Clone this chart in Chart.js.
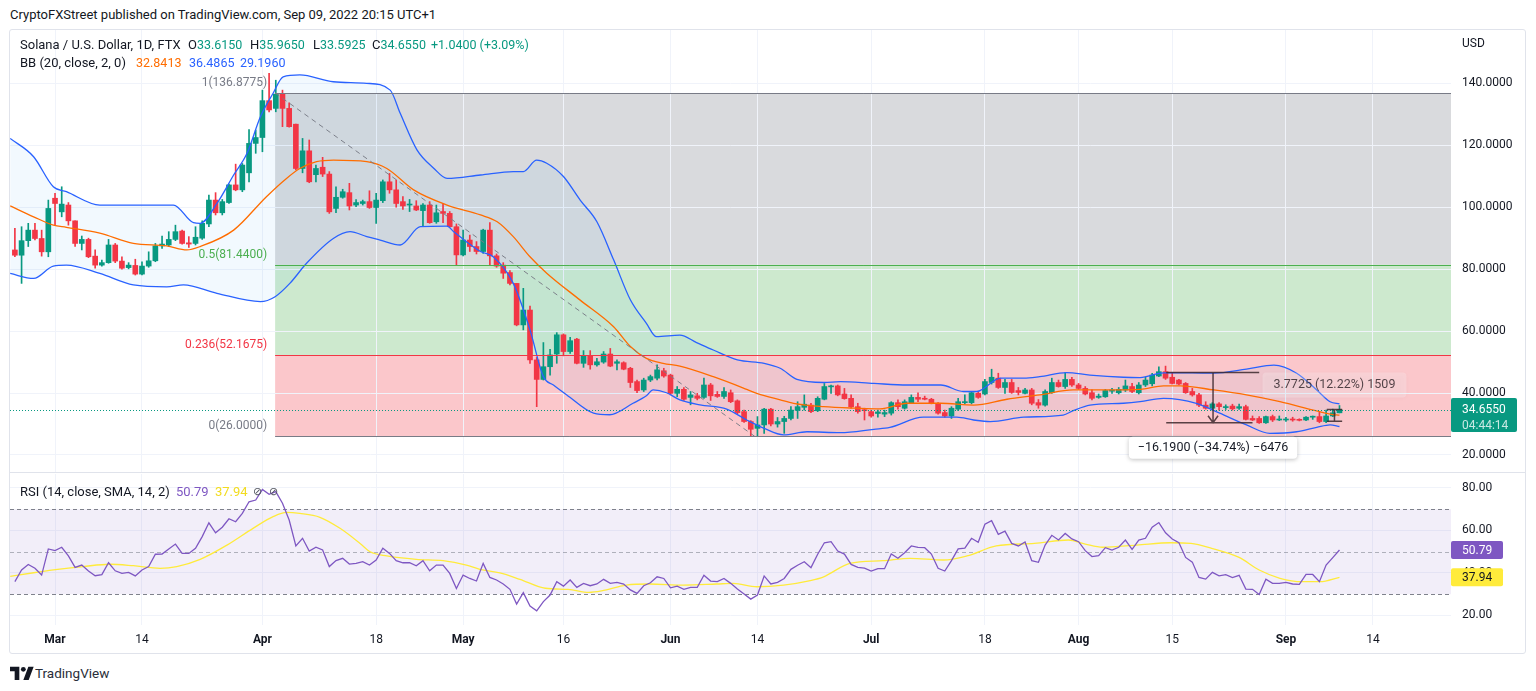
<!DOCTYPE html>
<html><head><meta charset="utf-8">
<script src="https://cdn.jsdelivr.net/npm/chart.js@4.4.0/dist/chart.umd.min.js"></script>
<style>
html,body{margin:0;padding:0;background:#fff}
body{width:1536px;height:691px;overflow:hidden;position:relative;font-family:Roboto,"Noto Sans",sans-serif;color:#131722}
.t{position:absolute;font-size:13px;line-height:16px;white-space:nowrap;color:#131722;z-index:3}
.v{font-size:12.5px}
#frame{position:absolute;left:9px;top:29px;width:1517px;height:625px;border:1px solid #e0e3eb;box-sizing:border-box;border-radius:3px}
#sep{position:absolute;left:10px;top:472px;width:1515px;height:1px;background:#e0e3eb;z-index:2}
#c1{position:absolute;left:10px;top:30px}
#c2{position:absolute;left:10px;top:474px}
.up{color:#089981}
.mk{position:absolute;font-size:11px;line-height:12px;color:#50535e;z-index:3}
</style></head><body>
<div id="frame"></div>
<canvas id="c1" width="1515" height="442"></canvas>
<div id="sep"></div>
<canvas id="c2" width="1515" height="179"></canvas>

<div class="t" style="left:10px;top:7px">CryptoFXStreet published on TradingView.com, Sep 09, 2022 20:15 UTC+1</div>
<div class="t" style="left:20px;top:37px">Solana / U.S. Dollar, 1D, FTX</div>
<div class="t" id="lgO" style="left:188px;top:37px"></div>
<div class="t" id="lgH" style="left:250px;top:37px"></div>
<div class="t" id="lgL" style="left:313px;top:37px"></div>
<div class="t" id="lgC" style="left:372px;top:37px"></div>
<div class="t up v" id="lgChg" style="left:431px;top:37px"></div>
<div class="t" style="left:20px;top:55px">BB (20, close, 2, 0)</div>
<div class="t v" id="lgBasis" style="left:136px;top:55px;color:#ff6d00"></div>
<div class="t v" id="lgUpper" style="left:189px;top:55px;color:#2962ff"></div>
<div class="t v" id="lgLower" style="left:240px;top:55px;color:#2962ff"></div>
<div class="t" style="left:1462px;top:35px;font-size:12px">USD</div>
<div class="t" style="left:20px;top:484px">RSI (14, close, SMA, 14, 2)</div>
<div class="t" id="lgRsi" style="left:176px;top:484px;color:#7e57c2"></div>
<div class="t" id="lgMa" style="left:215px;top:484px;color:#f2dc1f"></div>
<div class="mk" style="left:253px;top:486px">&#8856;</div>
<div class="mk" style="left:269px;top:486px">&#8856;</div>

<svg style="position:absolute;left:10px;top:666px" width="24" height="14" viewBox="0 0 36 21"><path d="M14 21H7V8H0V1h14v20zM28 21h-8L27.5 1h8L28 21z" fill="#131722"/><circle cx="20" cy="5" r="3.6" fill="#131722"/></svg>
<div class="t" style="left:35px;top:665px;font-size:13.5px;color:#2a2e39">TradingView</div>

<script>
// ---------------- DATA ----------------
const startDate = '2022-02-23';   // first daily candle
const refDate = '2022-03-01';     // day 0 of the time axis

const opens = [
 86.2,84.5,89.2,92.6,89.9,85.6,102.9,98.5,100.7,95.6,
 88.3,89.6,84.2,81.3,82.1,87.8,82.6,80.5,81.2,78.4,
 81.0,82.7,87.5,87.8,89.6,92.3,88.5,88.3,90.0,94.6,
 102.3,98.2,101.5,107.2,105.6,111.1,120.6,122.5,134.4,131.9,
 136.5,131.9,126.8,112.5,118.2,110.5,112.9,110.7,99.6,103.2,
 104.7,100.7,101.2,101.8,99.9,102.1,108.2,105.6,101.8,100.7,
 100.4,98.9,100.7,95.3,98.6,98.0,93.7,84.6,89.4,87.3,
 85.7,92.6,84.3,81.3,78.9,75.4,62.0,66.8,50.7,44.4,
 48.5,52.6,58.8,53.4,57.4,49.6,52.0,49.1,50.0,52.6,
 49.6,49.8,48.0,43.7,41.0,44.2,44.8,47.2,45.8,39.9,
 41.2,38.6,39.1,38.6,42.6,39.6,38.9,40.1,37.5,34.0,
 30.8,28.6,29.7,34.8,30.0,30.8,31.8,34.4,35.4,36.1,
 34.3,38.0,42.0,42.3,39.7,38.3,35.6,34.5,34.0,33.4,
 33.2,33.5,36.9,35.1,36.9,38.6,38.3,38.0,36.7,33.7,
 32.6,34.8,36.9,36.9,39.9,39.7,43.4,44.8,41.8,43.4,
 40.8,39.9,41.0,36.9,36.1,40.1,43.4,42.1,44.4,42.6,
 41.5,40.1,38.6,38.8,40.6,40.1,41.0,42.1,40.1,42.6,
 43.0,45.5,46.9,45.1,44.2,43.1,40.5,39.4,36.1,35.1,
 36.5,35.3,35.8,35.1,35.6,31.8,31.8,30.4,32.4,31.3,
 31.3,31.5,31.3,31.3,32.2,32.4,30.8,32.6,33.615];
const highs = [
 93.2,93.7,94.8,94.8,92.6,102.3,104.5,106.6,101.5,95.6,
 90.7,90.0,86.2,82.9,89.6,88.3,84.0,82.1,83.2,82.4,
 85.6,88.3,90.7,92.1,94.2,92.6,90.5,93.7,95.6,103.9,
 104.7,102.5,107.5,113.9,114.1,125.1,124.9,137.8,143.2,141.0,
 137.8,133.7,126.8,122.2,121.7,113.6,116.1,111.5,106.6,105.8,
 107.7,102.5,102.3,105.3,104.5,108.8,110.9,108.8,103.4,102.5,
 102.1,101.2,101.8,100.7,101.2,98.6,94.6,92.6,91.0,88.9,
 92.9,95.0,84.9,82.1,79.5,75.4,73.8,68.1,51.5,56.3,
 54.1,59.5,59.1,58.0,57.7,53.7,53.7,51.2,53.4,54.4,
 50.7,50.1,48.3,44.2,44.8,45.8,49.1,48.0,46.1,42.1,
 41.8,40.5,39.9,44.8,43.1,40.5,41.8,41.0,37.8,34.5,
 31.1,32.4,35.1,35.1,32.1,32.5,35.6,37.2,39.4,36.7,
 38.8,43.1,42.6,42.6,41.5,39.4,36.7,35.1,34.5,34.5,
 34.5,37.2,37.8,37.8,39.4,40.1,39.0,38.3,36.9,34.5,
 35.6,38.3,39.4,40.5,40.5,44.4,47.7,46.4,44.4,44.4,
 41.8,41.5,41.5,37.9,41.0,44.8,44.2,46.6,45.1,43.1,
 42.1,41.0,39.7,41.2,41.5,41.8,44.2,43.1,43.4,45.1,
 46.4,48.5,48.7,46.6,44.4,43.4,41.5,39.9,37.2,36.9,
 36.9,36.2,36.4,36.4,36.1,32.6,32.4,32.6,32.9,32.6,
 32.2,32.2,31.7,32.4,32.6,34.0,34.5,34.8,35.965];
const lows = [
 84.0,75.4,87.3,89.4,84.2,84.0,94.2,96.9,94.2,87.3,
 86.2,83.7,80.3,81.0,81.9,82.1,80.0,80.1,78.1,78.1,
 80.6,82.4,86.7,87.3,89.2,88.1,87.0,87.8,89.6,93.7,
 97.5,97.5,101.2,105.3,105.0,108.2,117.4,117.9,130.8,130.8,
 126.0,125.8,112.0,111.1,107.9,108.2,109.9,98.0,98.2,102.9,
 99.1,100.2,100.7,99.6,94.8,101.5,104.5,100.0,99.3,98.6,
 98.9,93.7,94.8,94.8,95.0,93.5,81.4,84.3,85.7,84.9,
 85.1,81.4,80.6,77.0,74.9,61.7,60.4,49.6,35.6,44.2,
 45.8,49.6,52.0,52.8,49.4,48.3,47.7,48.7,49.6,48.5,
 47.5,47.5,41.8,40.1,40.5,43.7,44.2,45.1,39.4,38.8,
 37.6,36.2,37.8,38.3,37.6,38.6,38.3,36.9,33.3,30.5,
 26.0,26.0,27.0,29.4,29.0,27.0,31.3,31.8,34.5,33.7,
 34.0,37.8,39.9,39.1,38.0,35.1,33.5,31.3,32.2,32.2,
 32.4,32.9,34.8,34.8,36.7,37.2,37.8,36.5,33.2,32.2,
 31.8,34.3,36.5,36.5,38.3,39.4,42.9,41.5,39.9,39.9,
 39.4,39.7,36.2,35.1,35.8,39.9,41.9,41.5,42.1,41.2,
 39.4,37.8,38.3,38.6,39.9,39.7,40.5,40.1,39.7,42.1,
 42.3,45.3,44.4,42.9,42.6,39.9,39.0,35.6,34.8,34.5,
 34.5,34.7,34.5,34.7,31.3,31.1,30.2,30.2,30.8,31.1,
 30.8,30.9,31.0,31.1,31.5,30.4,30.4,32.4,33.5925];
const closes = [
 84.5,89.2,92.6,89.9,85.6,99.6,101.2,101.0,95.6,88.3,
 89.6,84.0,81.3,82.1,87.8,82.6,80.3,81.3,78.4,81.0,
 82.7,87.5,88.1,89.6,92.1,88.3,88.1,90.3,94.8,102.3,
 98.2,101.8,107.2,105.6,113.6,120.6,122.5,134.4,131.4,136.5,
 131.9,126.0,112.5,118.2,108.2,112.5,110.7,98.5,103.2,105.0,
 100.4,101.5,101.8,99.9,102.3,108.2,105.6,101.2,100.4,100.9,
 99.1,100.7,95.0,98.2,98.0,93.7,84.6,89.4,87.3,85.7,
 92.6,84.3,81.0,78.7,75.4,62.0,66.8,50.7,44.4,48.5,
 52.3,58.8,53.4,56.9,49.6,52.0,49.1,50.1,52.6,48.7,
 50.1,47.7,43.4,40.8,44.2,45.3,47.5,45.5,39.9,41.2,
 38.0,39.4,38.3,42.6,39.1,38.9,40.5,37.2,33.7,30.8,
 28.3,29.7,34.8,30.0,30.8,31.8,34.5,35.6,36.4,34.0,
 38.3,42.1,42.3,39.4,38.2,35.6,34.0,34.3,32.6,33.9,
 33.7,36.9,35.6,37.2,38.6,38.0,38.0,36.7,33.5,32.6,
 35.1,37.2,37.2,40.1,38.6,43.7,45.1,41.8,43.4,40.2,
 40.2,41.0,36.7,36.1,40.5,43.4,42.1,44.4,42.6,41.5,
 39.7,38.3,39.0,40.8,41.0,41.2,42.3,40.5,42.6,44.2,
 45.8,46.9,44.8,43.1,42.9,40.1,39.4,36.1,35.1,36.5,
 35.6,35.6,34.9,35.6,31.5,31.3,30.4,32.4,31.3,31.5,
 31.5,31.3,31.2,32.2,32.4,30.8,32.6,33.615,34.655];

// Bollinger Bands (20, 2): day offsets from Mar 1 and values
const upperDays = [-6.7,-3.2,-0.25,1.7,6.7,11.7,17.7,20.7,21.7,24.2,26.7,28.7,30.7,32.6,34.1,36.6,41.6,46.6,50.1,51.6,54.1,56.6,58.6,63.6,68.5,70,72,73.5,76,78.5,81,83.5,86,88.4,89.9,93.4,95.9,98.4,102,106,108.4,110.9,114.9,117.4,122.4,127.4,132.4,135.8,137.8,141.3,144.8,147.2,151.2,154.7,159.7,162.2,165.7,170,173.2,178.1,182.2,185.6,188.6,190.6,192];
const upperVals = [122.2,116.3,106.6,105.0,100.7,100.7,100.7,95.0,94.8,101.2,110.4,117.4,129.2,136.8,142.1,142.7,140.5,140.0,137.8,130.3,118.5,112.6,109.3,110.4,111.5,111.5,115.2,114.2,109.9,102.3,95.3,83.0,70.1,62.5,58.2,58.7,56.3,53.9,50.7,49.6,48.0,44.4,43.4,43.7,43.1,42.6,42.6,40.5,40.5,44.8,44.8,45.3,46.6,45.8,45.1,45.0,46.5,46.5,46.4,47.7,49.0,46.4,41.0,37.2,36.4865];
const basisDays = [-6.7,-3.2,-0.25,1.7,6.7,11.7,16.7,19.7,21.7,26.7,31.6,34.6,36.6,39.1,41.6,46.6,49.6,53.6,58.6,63.6,66.1,68.5,71,73.5,78.5,83.5,86,88.4,90.9,93.4,98.4,103.4,105,108.4,110.4,114.9,119.9,123.3,127.4,132.4,137.3,142.3,147.2,152.2,157.2,162.2,165.7,168.2,173.2,178.1,183.1,188.1,190.6,192];
const basisVals = [100.4,96.9,94.2,93.5,91.6,88.3,87.5,86.2,87.3,92.6,103.4,109.3,112.5,114.7,115.2,114.7,112.5,105.6,100.7,97.5,95.3,90.5,84.0,78.7,70.0,61.4,55.0,51.2,49.6,48.7,45.3,41.2,39.8,37.8,36.7,35.6,35.1,34.9,36.7,36.7,36.1,38.0,39.4,41.0,41.0,41.2,42.3,42.3,41.0,39.4,37.2,34.5,33.2,32.8413];
const lowerDays = [-6.7,-3.2,-0.25,1.7,6.7,11.7,16.7,19.2,24.2,30.7,32.9,35.1,37.6,41.6,44.1,46.6,48.6,51.6,54.6,58.6,59.6,63.6,65.5,68.5,71,73,74.5,76.5,80.5,82.9,86.4,88.4,89.4,91.4,93.4,96.4,100.4,103.4,106,108.9,112.4,117.4,122.4,124.8,129.8,134.8,137.3,139.8,144.8,150.7,152.2,154.7,159.7,162.2,165.7,170.6,174.1,178.1,181.6,185.6,188.6,190.6,192];
const lowerVals = [78.6,77.0,81.0,81.3,78.6,74.9,74.3,74.9,72.2,69.5,71.1,75.4,81.9,89.9,92.1,90.5,89.4,87.8,93.7,93.9,92.1,85.7,84.0,75.4,60.4,45.3,42.6,39.4,33.5,33.0,36.7,39.1,41.0,40.1,37.8,36.2,34.8,31.3,28.6,26.5,27.5,27.2,28.3,28.9,32.2,32.2,31.3,30.8,32.2,32.9,34.3,36.1,36.7,37.2,38.3,36.7,33.5,29.7,27.0,27.5,28.9,29.7,29.196];

// RSI (14) per candle, and its SMA read at sample days
const rsiVals = [
 35.9,41.4,44.0,42.2,39.0,51.3,50.5,52.1,48.0,42.6,
 43.7,40.9,38.7,39.2,44.8,41.0,39.8,40.3,38.6,41.4,
 43.0,48.8,48.9,51.3,53.6,49.2,49.2,51.6,57.1,63.6,
 58.9,61.5,65.5,64.1,68.0,73.5,74.3,79.3,77.0,78.3,
 72.8,64.9,52.7,56.3,50.3,52.1,50.8,43.0,45.8,46.9,
 44.2,44.5,45.3,43.7,46.1,51.6,49.2,45.8,44.8,44.8,
 43.4,45.8,41.0,43.7,43.7,39.8,32.7,39.0,37.4,36.2,
 44.5,37.9,36.7,34.8,32.3,25.4,30.7,24.4,22.2,26.5,
 29.6,35.9,33.8,36.7,33.2,35.1,34.0,34.8,37.0,35.1,
 35.6,34.8,32.0,30.4,34.0,35.4,38.2,37.4,33.0,33.8,
 32.3,33.2,33.2,38.9,36.2,35.9,37.4,35.1,32.4,30.1,
 27.7,29.6,38.6,34.8,35.6,37.4,41.7,43.6,45.3,42.5,
 48.8,54.2,54.7,50.3,48.9,44.0,42.6,42.3,40.9,42.0,
 42.0,48.9,46.9,49.5,52.7,52.0,51.9,48.9,42.2,40.9,
 45.8,51.3,51.7,56.3,54.4,62.9,64.6,58.2,59.7,53.9,
 52.7,54.6,45.8,45.0,53.1,57.7,55.5,58.6,56.0,54.7,
 50.5,47.7,48.1,51.9,50.8,52.1,55.5,51.1,55.5,56.3,
 61.5,63.7,58.9,56.0,54.2,47.3,45.1,37.9,37.1,40.3,
 38.6,39.2,37.8,38.9,32.4,32.3,29.9,37.1,35.1,35.1,
 35.6,34.8,34.6,39.3,39.3,35.9,43.7,47.2,50.79];
const maDays = [-6.7,-3.2,-0.25,4.2,8.2,11.7,15.7,18.2,21.7,25.7,29.6,32.6,34.6,36.6,39.6,42.6,45.6,47.1,49.6,54,58,61.5,63.5,66.5,69.5,73.3,76.7,79.8,81.7,85.4,88.9,93.9,98.9,101.4,104.9,108.9,112.9,114.9,118.8,123.8,127.8,132.8,136.3,140.7,146.4,151.5,154,156.6,161.7,166.8,169.8,172.9,177,180,183.1,186.4,189.1,192];
const maVals = [38.4,40.1,41.4,43.0,44.1,43.4,42.2,43.0,46.4,53.1,61.0,66.5,68.5,68.0,66.2,61.0,53.9,50.0,48.0,46.4,45.8,43.7,41.7,40.0,37.0,32.8,32.3,30.9,31.6,34.3,34.8,34.3,34.8,35.1,33.5,34.3,36.4,38.2,44.5,45.8,46.9,46.1,48.0,52.7,53.9,55.5,53.6,52.1,53.1,54.2,53.9,51.6,47.3,41.4,37.5,35.9,35.9,37.94];

// Axis ticks
const priceTicks = [20,40,60,80,100,120,140];
const rsiTicks = [20,40,60,80];
const rsiLevels = [70,50,30];
const timeTickDates = ['2022-03-01','2022-03-14','2022-04-01','2022-04-18','2022-05-01','2022-05-16','2022-06-01','2022-06-14','2022-07-01','2022-07-18','2022-08-01','2022-08-15','2022-09-01','2022-09-14'];
const timeTickLabels = ['Mar','14','Apr','18','May','16','Jun','14','Jul','18','Aug','15','Sep','14'];

// Fibonacci retracement drawing (anchor days from Mar 1)
const fibStartDay = 32.9, fibEndDay = 104.6;
const fibRatios = [1, 0.5, 0.236, 0];
const fibPrices = [136.8775, 81.44, 52.1675, 26.0];

// Price-range measurement drawings
const measureA = {d0:166.1, d1Top:180.0, d1Bot:179.0, dArrow:173.1, pTop:46.6, pBot:30.41, label:'\u221216.1900 (\u221234.74%) \u22126476'};
const measureB = {d0:190.1, d1:192.4, pTop:34.655, pBot:30.8825, label:'3.7725 (12.22%) 1509'};
const countdown = '04:44:14';

// ---------------- RENDER ----------------
const FONT = 'Roboto, "Noto Sans", sans-serif';
Chart.defaults.font.family = FONT;
Chart.defaults.font.size = 12;
Chart.defaults.color = '#131722';

const DAYMS = 864e5;
const dayOf = s => (Date.parse(s + 'T00:00:00Z') - Date.parse(refDate + 'T00:00:00Z')) / DAYMS;
const firstDay = dayOf(startDate);
const candleDays = closes.map((_, i) => firstDay + i);
const tickDays = timeTickDates.map(dayOf);
const last = closes.length - 1;
const lastPrice = closes[last];

const UP = '#089981', DOWN = '#f23645';
const candleColors = closes.map((c, i) => c >= opens[i] ? UP : DOWN);

const X_MIN = -6.73, X_MAX = 208.67;
const P_MIN = 14.51, P_MAX = 157.21;
const R_MIN = 15.51, R_MAX = 86.56;
const GRID = '#f0f3fa';

// legend text
const f4 = v => v.toFixed(4);
document.getElementById('lgO').innerHTML = 'O<span class="up v">' + f4(opens[last]) + '</span>';
document.getElementById('lgH').innerHTML = 'H<span class="up v">' + f4(highs[last]) + '</span>';
document.getElementById('lgL').innerHTML = 'L<span class="up v">' + f4(lows[last]) + '</span>';
document.getElementById('lgC').innerHTML = 'C<span class="up v">' + f4(closes[last]) + '</span>';
const chg = closes[last] - closes[last - 1];
document.getElementById('lgChg').textContent = '+' + chg.toFixed(4) + ' (+' + (chg / closes[last - 1] * 100).toFixed(2) + '%)';
document.getElementById('lgBasis').textContent = f4(basisVals[basisVals.length - 1]);
document.getElementById('lgUpper').textContent = f4(upperVals[upperVals.length - 1]);
document.getElementById('lgLower').textContent = f4(lowerVals[lowerVals.length - 1]);
document.getElementById('lgRsi').textContent = rsiVals[last].toFixed(2);
document.getElementById('lgMa').textContent = maVals[maVals.length - 1].toFixed(2);

function rrect(ctx, x, y, w, h, r) {
  ctx.beginPath();
  ctx.moveTo(x + r, y); ctx.lineTo(x + w - r, y); ctx.quadraticCurveTo(x + w, y, x + w, y + r);
  ctx.lineTo(x + w, y + h - r); ctx.quadraticCurveTo(x + w, y + h, x + w - r, y + h);
  ctx.lineTo(x + r, y + h); ctx.quadraticCurveTo(x, y + h, x, y + h - r);
  ctx.lineTo(x, y + r); ctx.quadraticCurveTo(x, y, x + r, y); ctx.closePath();
}
const pts = (xs, ys) => xs.map((d, i) => ({x: d, y: ys[i]}));
const zeroPad = s => { s.paddingTop = 0; s.paddingBottom = 0; s.paddingLeft = 0; s.paddingRight = 0; };

const fibFill = ['rgba(120,123,134,0.28)', 'rgba(76,175,80,0.28)', 'rgba(242,54,69,0.28)'];
const fibLine = ['#787b86', '#4caf50', '#f23645', '#787b86'];

const mainPlugin = {
  id: 'mainDecor',
  beforeDraw(chart) {
    const {ctx, chartArea: a, scales: {x, y}} = chart;
    const x0 = x.getPixelForValue(fibStartDay);
    ctx.save();
    for (let i = 0; i < fibPrices.length - 1; i++) {
      const y1 = y.getPixelForValue(fibPrices[i]), y2 = y.getPixelForValue(fibPrices[i + 1]);
      ctx.fillStyle = fibFill[i];
      ctx.fillRect(x0, y1, a.right - x0, y2 - y1);
    }
    ctx.restore();
  },
  afterDatasetsDraw(chart) {
    const {ctx, chartArea: a, scales: {x, y}} = chart;
    ctx.save();
    ctx.beginPath(); ctx.rect(a.left, a.top, a.right - a.left, a.bottom - a.top); ctx.clip();
    const x0 = x.getPixelForValue(fibStartDay);
    ctx.font = '12px ' + FONT; ctx.textAlign = 'right'; ctx.textBaseline = 'middle';
    fibPrices.forEach((p, i) => {
      const yy = Math.round(y.getPixelForValue(p)) + 0.5;
      ctx.strokeStyle = fibLine[i]; ctx.lineWidth = 1;
      ctx.beginPath(); ctx.moveTo(x0, yy); ctx.lineTo(a.right, yy); ctx.stroke();
      ctx.fillStyle = fibLine[i];
      ctx.fillText(fibRatios[i] + '(' + p.toFixed(4) + ')', x0 - 8, yy - 11);
    });
    // trend line of the fib
    ctx.setLineDash([5, 4]); ctx.strokeStyle = 'rgba(120,123,134,0.95)'; ctx.lineWidth = 1;
    ctx.beginPath();
    ctx.moveTo(x0, y.getPixelForValue(fibPrices[0]));
    ctx.lineTo(x.getPixelForValue(fibEndDay), y.getPixelForValue(fibPrices[fibPrices.length - 1]));
    ctx.stroke();
    // last price dotted line
    const yp = Math.round(y.getPixelForValue(lastPrice)) + 0.5;
    ctx.setLineDash([1, 2]); ctx.strokeStyle = UP;
    ctx.beginPath(); ctx.moveTo(a.left, yp); ctx.lineTo(a.right, yp); ctx.stroke();
    ctx.setLineDash([]);
    // measure A
    const mc = 'rgba(60,40,45,0.85)';
    ctx.strokeStyle = mc; ctx.lineWidth = 1.5;
    const ax0 = x.getPixelForValue(measureA.d0);
    const ayT = y.getPixelForValue(measureA.pTop), ayB = y.getPixelForValue(measureA.pBot);
    const axA = x.getPixelForValue(measureA.dArrow);
    ctx.beginPath();
    ctx.moveTo(ax0, ayT); ctx.lineTo(x.getPixelForValue(measureA.d1Top), ayT);
    ctx.moveTo(ax0, ayB); ctx.lineTo(x.getPixelForValue(measureA.d1Bot), ayB);
    ctx.moveTo(axA, ayT); ctx.lineTo(axA, ayB);
    ctx.moveTo(axA - 5, ayB - 7); ctx.lineTo(axA, ayB); ctx.lineTo(axA + 5, ayB - 7);
    ctx.stroke();
    ctx.font = '12.5px ' + FONT; ctx.textAlign = 'center'; ctx.textBaseline = 'middle';
    let w = ctx.measureText(measureA.label).width + 18;
    ctx.save();
    ctx.shadowColor = 'rgba(0,0,0,0.25)'; ctx.shadowBlur = 4; ctx.shadowOffsetY = 1;
    ctx.fillStyle = '#ffffff'; rrect(ctx, axA - w / 2, ayB + 14, w, 22, 4); ctx.fill();
    ctx.restore();
    ctx.fillStyle = '#131722'; ctx.fillText(measureA.label, axA, ayB + 25);
    // measure B
    const bx0 = x.getPixelForValue(measureB.d0), bx1 = x.getPixelForValue(measureB.d1);
    const byT = y.getPixelForValue(measureB.pTop), byB = y.getPixelForValue(measureB.pBot);
    const bxm = (bx0 + bx1) / 2;
    ctx.strokeStyle = mc; ctx.lineWidth = 1.5;
    ctx.beginPath();
    ctx.moveTo(bx0, byT); ctx.lineTo(bx1, byT);
    ctx.moveTo(bx0, byB); ctx.lineTo(bx1, byB);
    ctx.moveTo(bxm, byB); ctx.lineTo(bxm, byT);
    ctx.stroke();
    w = ctx.measureText(measureB.label).width + 22;
    ctx.save();
    ctx.shadowColor = 'rgba(0,0,0,0.12)'; ctx.shadowBlur = 4; ctx.shadowOffsetY = 1;
    ctx.fillStyle = 'rgba(255,255,255,0.22)'; rrect(ctx, bxm - w / 2, byT - 37, w, 25, 4); ctx.fill();
    ctx.restore();
    ctx.fillStyle = 'rgba(40,30,35,0.8)'; ctx.fillText(measureB.label, bxm, byT - 24.5);
    ctx.restore();
  },
  afterDraw(chart) {
    const {ctx, chartArea: a, scales: {y}} = chart;
    const yp = y.getPixelForValue(lastPrice);
    ctx.save();
    ctx.fillStyle = UP; rrect(ctx, a.right, yp - 11.5, 66, 34, 2); ctx.fill();
    ctx.font = '12px ' + FONT; ctx.textAlign = 'left'; ctx.textBaseline = 'middle';
    ctx.fillStyle = '#ffffff'; ctx.fillText(lastPrice.toFixed(4), a.right + 11, yp);
    ctx.fillStyle = 'rgba(255,255,255,0.78)'; ctx.fillText(countdown, a.right + 11, yp + 16);
    ctx.restore();
  }
};

new Chart(document.getElementById('c1'), {
  type: 'bar',
  data: {datasets: [
    {type: 'line', data: pts(upperDays, upperVals), borderColor: '#2962ff', borderWidth: 1.3, pointRadius: 0, cubicInterpolationMode: 'monotone', fill: {target: 2, above: 'rgba(33,150,243,0.06)', below: 'rgba(33,150,243,0.06)'}, order: 0},
    {type: 'line', data: pts(basisDays, basisVals), borderColor: '#ff6d00', borderWidth: 1.3, pointRadius: 0, cubicInterpolationMode: 'monotone', fill: false, order: 0},
    {type: 'line', data: pts(lowerDays, lowerVals), borderColor: '#2962ff', borderWidth: 1.3, pointRadius: 0, cubicInterpolationMode: 'monotone', fill: false, order: 0},
    {type: 'bar', data: candleDays.map((d, i) => ({x: d, y: [opens[i], closes[i]]})), backgroundColor: candleColors, barThickness: 5, minBarLength: 1, grouped: false, order: 1},
    {type: 'bar', data: candleDays.map((d, i) => ({x: d, y: [lows[i], highs[i]]})), backgroundColor: candleColors, barThickness: 1, grouped: false, order: 1}
  ]},
  options: {
    responsive: false, animation: false, events: [],
    layout: {padding: 0, autoPadding: false},
    plugins: {legend: {display: false}, tooltip: {enabled: false}, filler: {drawTime: 'beforeDatasetsDraw'}},
    scales: {
      x: {type: 'linear', min: X_MIN, max: X_MAX, offset: false,
          afterBuildTicks: s => { s.ticks = tickDays.map(v => ({value: v})); },
          afterFit: s => { s.height = 0; zeroPad(s); },
          grid: {color: GRID, drawTicks: false, offset: false}, border: {display: false}, ticks: {display: false}},
      y: {type: 'linear', position: 'right', min: P_MIN, max: P_MAX, beginAtZero: false,
          afterBuildTicks: s => { s.ticks = priceTicks.map(v => ({value: v})); },
          afterFit: s => { s.width = 74; zeroPad(s); },
          grid: {color: GRID, drawTicks: false}, border: {display: false},
          ticks: {padding: 11, color: '#131722', font: {size: 12}, callback: v => Number(v).toFixed(4)}}
    }
  },
  plugins: [mainPlugin]
});

const rsiPlugin = {
  id: 'rsiDecor',
  beforeDatasetsDraw(chart) {
    const {ctx, chartArea: a, scales: {y}} = chart;
    ctx.save();
    const yt = y.getPixelForValue(rsiLevels[0]), yb = y.getPixelForValue(rsiLevels[2]);
    ctx.fillStyle = 'rgba(126,87,194,0.1)';
    ctx.fillRect(a.left, yt, a.right - a.left, yb - yt);
    ctx.setLineDash([4, 3]); ctx.lineWidth = 1;
    rsiLevels.forEach((lv, i) => {
      const yy = Math.round(y.getPixelForValue(lv)) + 0.5;
      ctx.strokeStyle = i === 1 ? 'rgba(120,123,134,0.55)' : 'rgba(120,123,134,0.95)';
      ctx.beginPath(); ctx.moveTo(a.left, yy); ctx.lineTo(a.right, yy); ctx.stroke();
    });
    ctx.restore();
  },
  afterDraw(chart) {
    const {ctx, chartArea: a, scales: {y}} = chart;
    ctx.save();
    ctx.font = '12px ' + FONT; ctx.textAlign = 'left'; ctx.textBaseline = 'middle';
    const boxes = [
      {v: maVals[maVals.length - 1], bg: '#ffeb3b', fg: '#131722'},
      {v: rsiVals[rsiVals.length - 1], bg: '#7e57c2', fg: '#ffffff'}
    ];
    boxes.forEach(b => {
      const yy = y.getPixelForValue(b.v);
      ctx.fillStyle = b.bg; rrect(ctx, a.right, yy - 9, 52, 18, 2); ctx.fill();
      ctx.fillStyle = b.fg; ctx.fillText(b.v.toFixed(2), a.right + 11, yy + 0.5);
    });
    ctx.restore();
  }
};

new Chart(document.getElementById('c2'), {
  type: 'line',
  data: {datasets: [
    {data: pts(candleDays, rsiVals), borderColor: '#7e57c2', borderWidth: 1.3, pointRadius: 0, tension: 0, order: 0},
    {data: pts(maDays, maVals), borderColor: '#ffeb3b', borderWidth: 1.3, pointRadius: 0, cubicInterpolationMode: 'monotone', order: 1}
  ]},
  options: {
    responsive: false, animation: false, events: [],
    layout: {padding: 0, autoPadding: false},
    plugins: {legend: {display: false}, tooltip: {enabled: false}},
    scales: {
      x: {type: 'linear', min: X_MIN, max: X_MAX, offset: false,
          afterBuildTicks: s => { s.ticks = tickDays.map(v => ({value: v})); },
          afterFit: s => { s.height = 28; zeroPad(s); },
          grid: {color: GRID, drawTicks: false, offset: false}, border: {display: false},
          ticks: {padding: 8, maxRotation: 0, autoSkip: false, color: '#131722',
                  callback: (v, i) => timeTickLabels[i],
                  font: c => ({size: 12, weight: /^[A-Z]/.test(timeTickLabels[c.index] || '') ? 'bold' : 'normal'})}},
      y: {type: 'linear', position: 'right', min: R_MIN, max: R_MAX, beginAtZero: false,
          afterBuildTicks: s => { s.ticks = rsiTicks.map(v => ({value: v})); },
          afterFit: s => { s.width = 74; zeroPad(s); },
          grid: {color: GRID, drawTicks: false}, border: {display: false},
          ticks: {padding: 11, color: '#131722', font: {size: 12}, callback: v => Number(v).toFixed(2)}}
    }
  },
  plugins: [rsiPlugin]
});
</script>
</body></html>
